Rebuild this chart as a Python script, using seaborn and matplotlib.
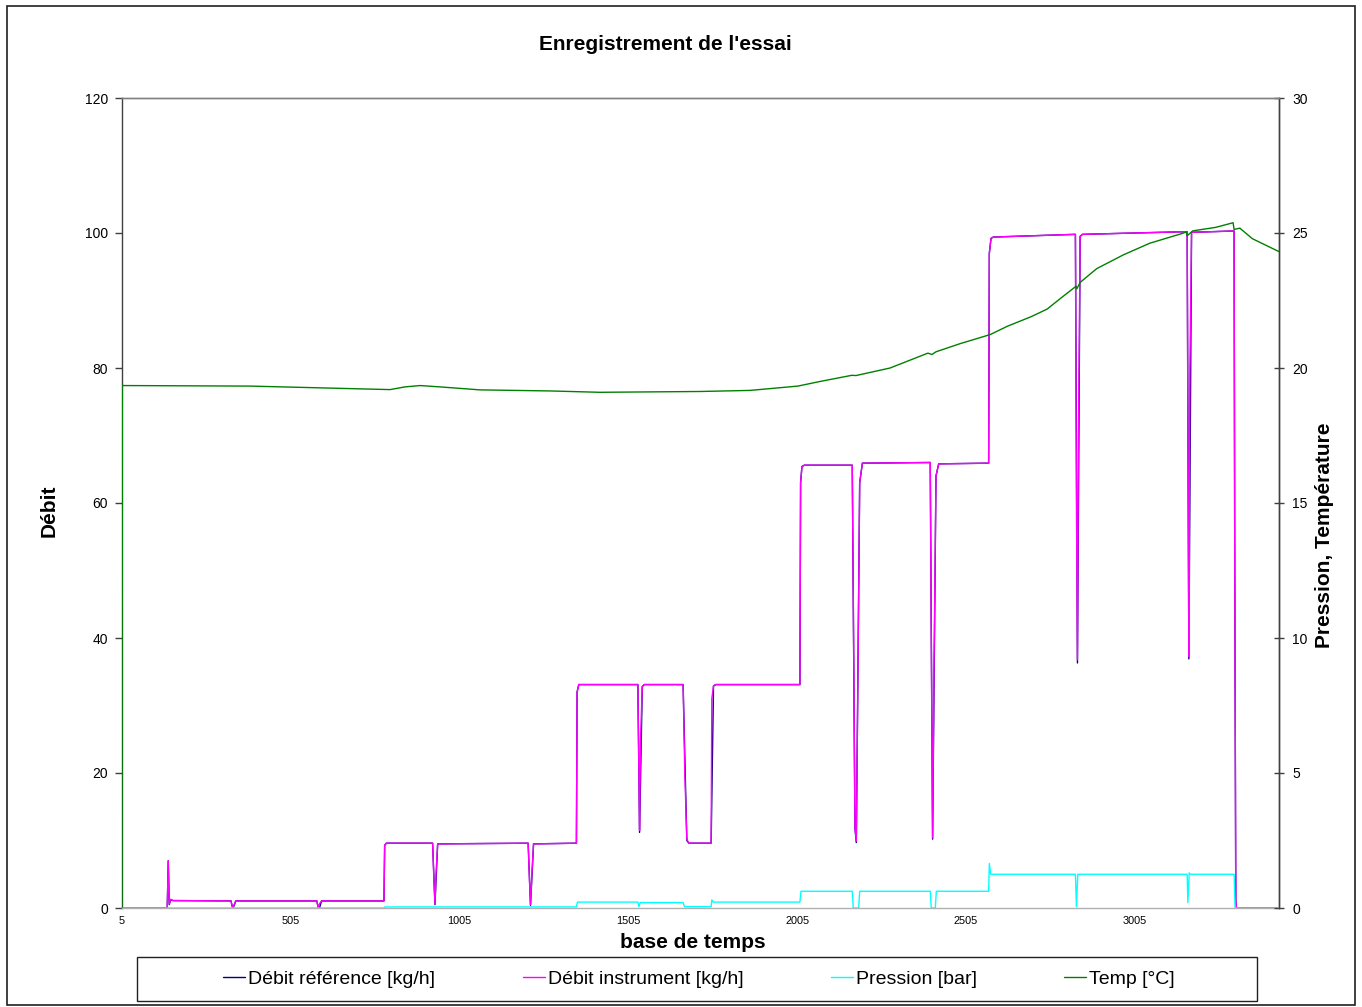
import pandas as pd
import seaborn as sns
import matplotlib.pyplot as plt
from matplotlib.patches import Rectangle

# ---- data (breakpoints) ----
inst_t = [5, 139, 142, 145, 149, 156, 328, 331, 333, 338, 342, 582, 586, 591, 596,
          781, 783, 788, 925, 929, 932, 935, 940, 1208, 1212, 1215, 1219, 1224,
          1351, 1353, 1358, 1533, 1536, 1538, 1541, 1546, 1552, 1667, 1672, 1678, 1684,
          1750, 1752, 1757, 1764, 2013, 2015, 2019, 2026, 2168, 2172, 2176, 2180, 2184,
          2190, 2198, 2399, 2402, 2406, 2410, 2416, 2424, 2572, 2574, 2579, 2586,
          2829, 2832, 2835, 2838, 2843, 2850, 3160, 3163, 3165, 3168, 3173, 3299,
          3301, 3304, 3306, 3432]
inst_v = [0, 0, 7.0, 0.6, 1.3, 1.1, 1.05, 0.3, 0.1, 0.6, 1.05, 1.05, 0.1, 0.7, 1.05,
          1.05, 9.3, 9.6, 9.6, 4, 0.6, 5, 9.5, 9.6, 4, 0.5, 5, 9.5,
          9.6, 32, 33.1, 33.1, 20, 11.5, 25, 32.8, 33.1, 33.1, 20, 10.2, 9.6,
          9.6, 31, 32.9, 33.1, 33.1, 63, 65.4, 65.6, 65.6, 40, 12, 9.9, 30,
          63, 65.9, 66.0, 40, 10.4, 35, 64, 65.8, 65.9, 97, 99.2, 99.4,
          99.8, 60, 36.8, 70, 99.5, 99.8, 100.2, 60, 37.3, 80, 100.1, 100.3,
          50, 1, 0, 0]

ref_t = [5, 139, 142, 145, 149, 156, 328, 331, 334, 338, 342, 582, 586, 590, 596,
         781, 783, 788, 925, 932, 940, 1208, 1215, 1224, 1351, 1353, 1358,
         1533, 1538, 1546, 1552, 1667, 1678, 1684, 1750, 1757, 1764,
         2013, 2015, 2019, 2026, 2168, 2176, 2180, 2190, 2198, 2399, 2406, 2416, 2424,
         2572, 2574, 2579, 2586, 2829, 2835, 2843, 2850, 3160, 3165, 3173, 3299,
         3301, 3304, 3306, 3432]
ref_v = [0, 0, 7.0, 0.5, 1.2, 1.1, 1.05, 0.3, 0.0, 0.5, 1.05, 1.05, 0.1, 0.0, 1.05,
         1.05, 9.3, 9.6, 9.6, 0.5, 9.5, 9.6, 0.4, 9.5, 9.6, 32, 33.1,
         33.1, 11.2, 32.8, 33.1, 33.1, 10.0, 9.6, 9.6, 32.9, 33.1,
         33.1, 63, 65.4, 65.6, 65.6, 11.8, 9.7, 63, 65.9, 66.0, 10.2, 64, 65.8,
         65.9, 97, 99.2, 99.4, 99.8, 36.3, 99.5, 99.8, 100.2, 36.9, 100.1, 100.3,
         50, 1, 0, 0]

pres_t = [5, 781, 784, 1351, 1354, 1533, 1536, 1540, 1667, 1671, 1750, 1752, 1756,
          2013, 2016, 2168, 2171, 2187, 2190, 2399, 2402, 2414, 2417, 2572, 2574,
          2578, 2829, 2832, 2836, 3160, 3162, 3166, 3170, 3299, 3302, 3432]
pres_v = [0, 0, 0.04, 0.04, 0.22, 0.22, 0.05, 0.2, 0.2, 0.05, 0.05, 0.3, 0.22,
          0.22, 0.62, 0.62, 0.0, 0.0, 0.62, 0.62, 0.0, 0.0, 0.62, 0.62, 1.65,
          1.25, 1.25, 0.05, 1.25, 1.25, 0.2, 1.3, 1.25, 1.25, 0.0, 0.0]

temp_t = [5, 6, 384, 799, 843, 888, 947, 1065, 1273, 1421, 1717, 1865, 2007, 2072,
          2167, 2179, 2280, 2392, 2404, 2416, 2487, 2577, 2628, 2696, 2745, 2784,
          2831, 2833, 2843, 2892, 2971, 3049, 3147, 3157, 3160, 3177, 3245, 3296,
          3299, 3316, 3353, 3432]
temp_v = [0, 19.35, 19.33, 19.2, 19.3, 19.35, 19.3, 19.19, 19.15, 19.1, 19.13, 19.17,
          19.33, 19.5, 19.73, 19.72, 20.0, 20.55, 20.5, 20.6, 20.9, 21.24, 21.55,
          21.89, 22.18, 22.57, 23.03, 22.93, 23.17, 23.68, 24.19, 24.62, 24.99,
          25.04, 24.9, 25.08, 25.21, 25.38, 25.13, 25.18, 24.79, 24.31]

x_ticks = [5, 505, 1005, 1505, 2005, 2505, 3005]

sns.set_style('white')
plt.rcParams['font.family'] = ['Liberation Sans', 'DejaVu Sans']
plt.rcParams['text.color'] = 'black'
plt.rcParams['axes.labelcolor'] = 'black'
plt.rcParams['xtick.color'] = 'black'
plt.rcParams['ytick.color'] = 'black'

fig = plt.figure(figsize=(13.62, 10.07), dpi=100)
ax = fig.add_axes([122 / 1362, 1 - 908 / 1007, 1157 / 1362, 810 / 1007])
ax2 = ax.twinx()

df_ref = pd.DataFrame({'t': ref_t, 'v': ref_v})
df_inst = pd.DataFrame({'t': inst_t, 'v': inst_v})
df_pres = pd.DataFrame({'t': pres_t, 'v': pres_v})
df_temp = pd.DataFrame({'t': temp_t, 'v': temp_v})

lw = 1.0
sns.lineplot(data=df_ref, x='t', y='v', ax=ax, color='#000080', lw=lw,
             estimator=None, sort=False, label='Débit référence [kg/h]', legend=False)
sns.lineplot(data=df_inst, x='t', y='v', ax=ax, color='#FF00FF', lw=lw,
             estimator=None, sort=False, label='Débit instrument [kg/h]', legend=False)
sns.lineplot(data=df_pres, x='t', y='v', ax=ax2, color='#00FFFF', lw=lw,
             estimator=None, sort=False, label='Pression [bar]', legend=False)
sns.lineplot(data=df_temp, x='t', y='v', ax=ax2, color='#008000', lw=lw,
             estimator=None, sort=False, label='Temp [°C]', legend=False)
for ln in ax2.get_lines():
    ln.set_zorder(3)

ax.set_xlim(5, 3432)
ax.set_ylim(0, 120)
ax2.set_ylim(0, 30)
ax.set_xticks(x_ticks)
ax.set_yticks(range(0, 121, 20))
ax2.set_yticks(range(0, 31, 5))

ax.tick_params(axis='x', length=0, pad=6, labelsize=7.8)
ax.tick_params(axis='y', direction='out', length=5, width=1, color='#404040',
               pad=5, labelsize=10, left=True)
ax2.tick_params(axis='y', direction='inout', length=7, width=1, color='#404040',
                pad=6, labelsize=10, right=True)

for a in (ax, ax2):
    a.spines['top'].set_color('#808080')
    a.spines['left'].set_color('#404040')
    a.spines['right'].set_color('#404040')
    a.spines['bottom'].set_color('#b0b0b0')
    for s in a.spines.values():
        s.set_linewidth(1.0)
    a.grid(False)
ax2.spines['left'].set_visible(False)
ax2.spines['bottom'].set_visible(False)

ax.set_xlabel('base de temps', fontsize=15, fontweight='bold')
ax.xaxis.set_label_coords(0.4935, -0.031)
ax.set_ylabel('Débit', fontsize=15, fontweight='bold')
ax.yaxis.set_label_coords(-0.055, 0.49)
ax2.set_ylabel('Pression, Température', fontsize=15, fontweight='bold')
ax2.yaxis.set_label_coords(1.031, 0.46)

fig.text(665 / 1362, 1 - 45 / 1007, "Enregistrement de l'essai", ha='center',
         va='center', fontsize=15, fontweight='bold')

handles = ax.get_lines() + ax2.get_lines()
labels = [h.get_label() for h in handles]
fig.legend(handles, labels, loc='center', bbox_to_anchor=(699 / 1362, 1 - 979 / 1007),
           bbox_transform=fig.transFigure, ncol=4, frameon=False, fontsize=14,
           handlelength=1.13, handletextpad=0.15, columnspacing=4.5)

fig.patches.append(Rectangle((137 / 1362, 1 - 1001 / 1007), 1120 / 1362, 44 / 1007,
                             transform=fig.transFigure, fill=False,
                             edgecolor='#202020', lw=1.0))
fig.patches.append(Rectangle((7 / 1362, 1 - 1005 / 1007), 1348 / 1362, 999 / 1007,
                             transform=fig.transFigure, fill=False,
                             edgecolor='#202020', lw=1.2))

plt.savefig('out.png', dpi=100)
